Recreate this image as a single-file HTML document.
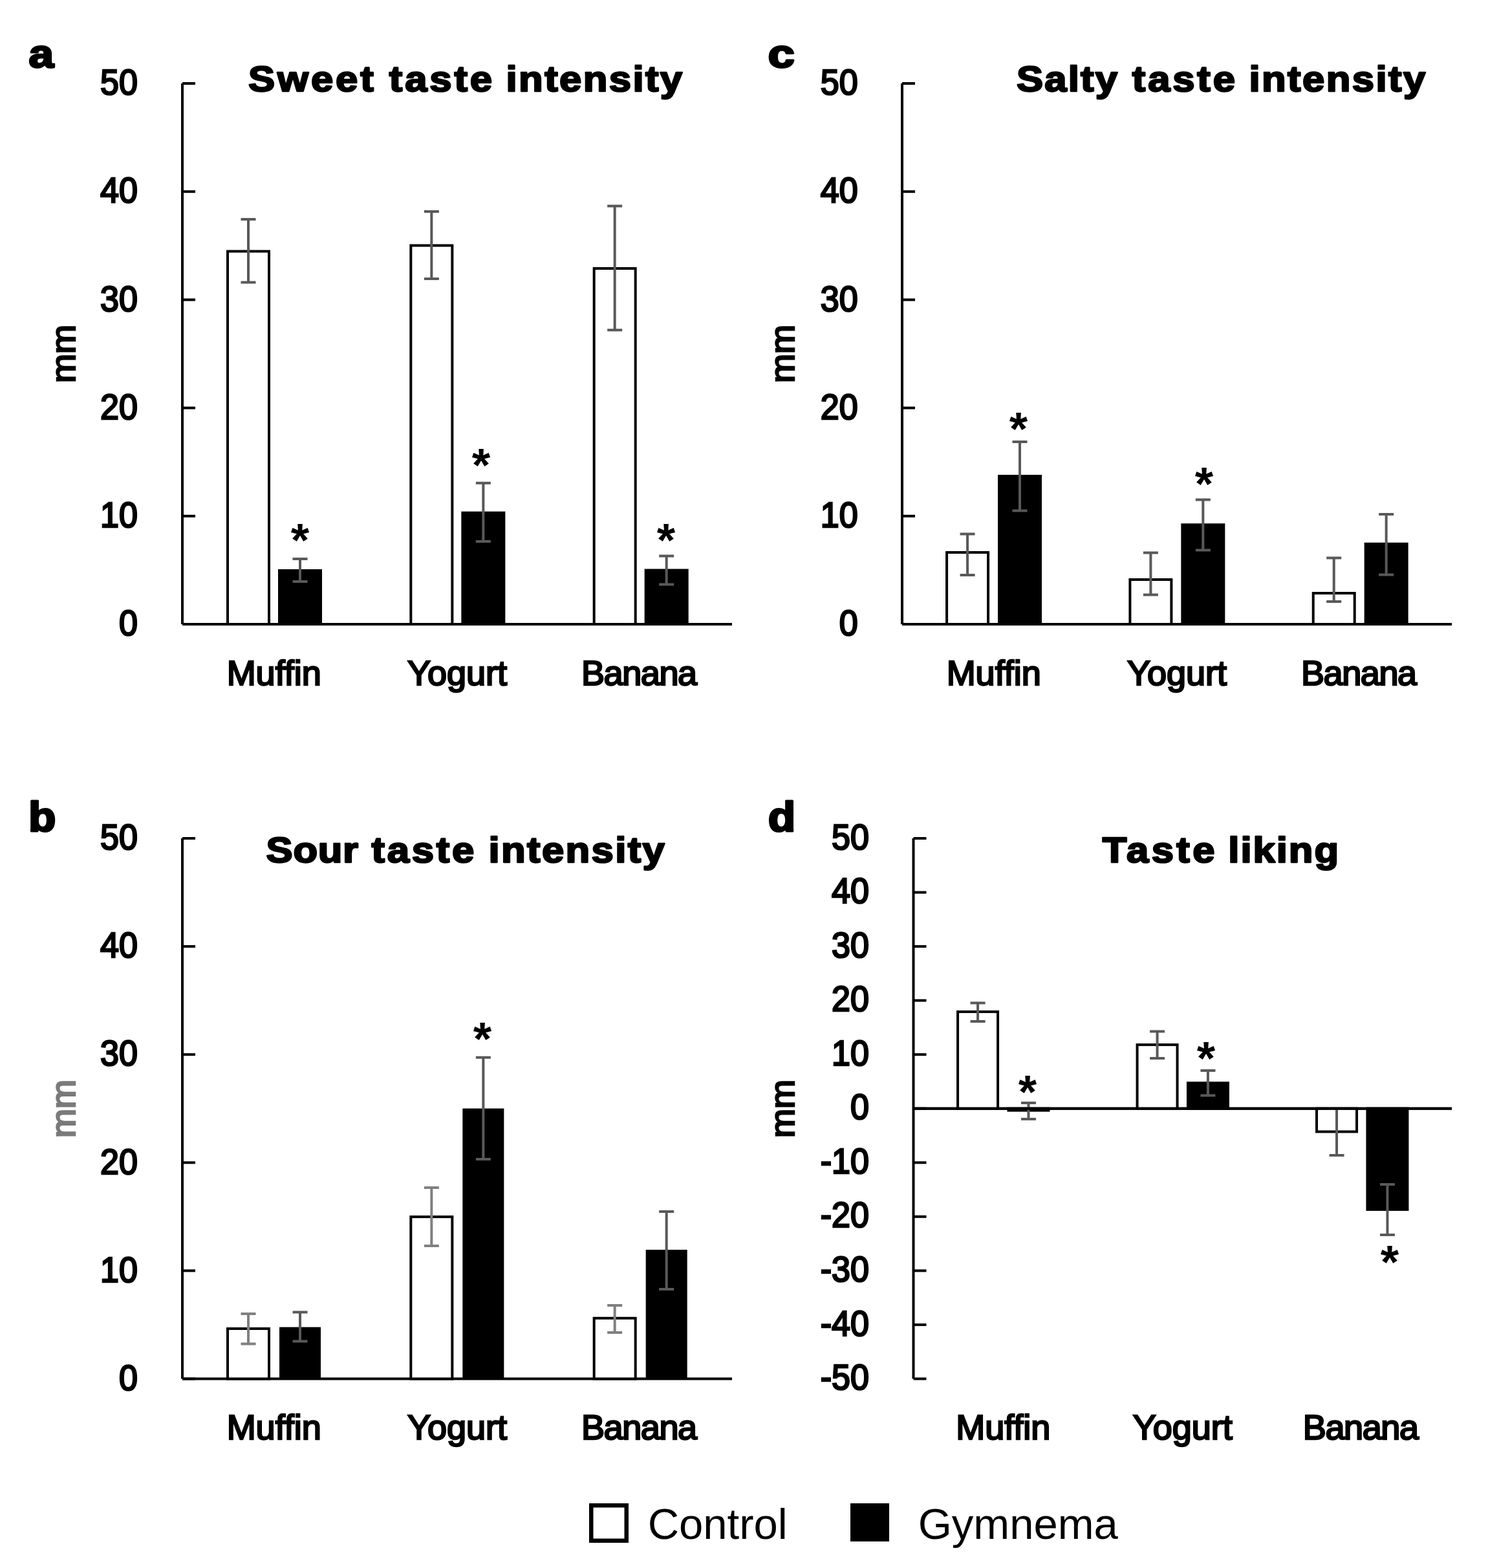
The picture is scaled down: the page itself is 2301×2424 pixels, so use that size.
<!DOCTYPE html>
<html><head><meta charset="utf-8"><title>Taste intensity figure</title>
<style>
html,body{margin:0;padding:0;background:#fff;}
svg{display:block;}
text{font-family:'Liberation Sans', Arial, sans-serif;}
.tk{font-size:52px;fill:#000;stroke:#000;stroke-width:2.5px;}
.lb{font-size:54px;fill:#000;stroke:#000;stroke-width:2.5px;}
.tt{font-size:56px;font-weight:bold;fill:#000;stroke:#000;stroke-width:2.5px;stroke-linejoin:round;}
.pl{font-size:62px;font-weight:bold;fill:#000;stroke:#000;stroke-width:3px;stroke-linejoin:round;}
.st{font-size:73px;font-weight:bold;fill:#000;}
.lg{font-size:67px;fill:#000;}
</style></head>
<body>
<svg width="2301" height="2424" viewBox="0 0 2301 2424">
<rect width="2301" height="2424" fill="#fff"/>
<line x1="282.00" y1="129.00" x2="282.00" y2="965.00" stroke="#000" stroke-width="4"/>
<line x1="282.00" y1="129.00" x2="302.00" y2="129.00" stroke="#000" stroke-width="4"/>
<text transform="translate(212.80 146.20) scale(1 1.05)" text-anchor="end" class="tk">50</text>
<line x1="282.00" y1="296.20" x2="302.00" y2="296.20" stroke="#000" stroke-width="4"/>
<text transform="translate(212.80 313.40) scale(1 1.05)" text-anchor="end" class="tk">40</text>
<line x1="282.00" y1="463.40" x2="302.00" y2="463.40" stroke="#000" stroke-width="4"/>
<text transform="translate(212.80 480.60) scale(1 1.05)" text-anchor="end" class="tk">30</text>
<line x1="282.00" y1="630.60" x2="302.00" y2="630.60" stroke="#000" stroke-width="4"/>
<text transform="translate(212.80 647.80) scale(1 1.05)" text-anchor="end" class="tk">20</text>
<line x1="282.00" y1="797.80" x2="302.00" y2="797.80" stroke="#000" stroke-width="4"/>
<text transform="translate(212.80 815.00) scale(1 1.05)" text-anchor="end" class="tk">10</text>
<line x1="282.00" y1="965.00" x2="302.00" y2="965.00" stroke="#000" stroke-width="4"/>
<text transform="translate(212.80 982.20) scale(1 1.05)" text-anchor="end" class="tk">0</text>
<line x1="282.00" y1="965.00" x2="1132.00" y2="965.00" stroke="#000" stroke-width="4"/>
<text transform="translate(115.75 547.00) rotate(-90)" text-anchor="middle" class="lb" style="fill:#000;stroke:#000">mm</text>
<text x="423.67" y="1058.70" text-anchor="middle" class="lb">Muffin</text>
<text x="707.00" y="1058.70" text-anchor="middle" class="lb">Yogurt</text>
<text x="987.83" y="1058.70" text-anchor="middle" class="lb" letter-spacing="-1.4">Banana</text>
<text transform="translate(0 141.00) scale(1.1 1)" y="0" class="tt"><tspan x="349.09" letter-spacing="3.59">Sweet </tspan><tspan x="547.09" letter-spacing="3.52">taste </tspan><tspan x="711.45" letter-spacing="2.19">intensity</tspan></text>
<text transform="translate(44.50 103.90) scale(1.12 1)" class="pl">a</text>
<rect x="352.00" y="388.50" width="64.00" height="576.50" fill="#fff" stroke="#000" stroke-width="4"/>
<rect x="432.00" y="882.00" width="64.00" height="83.00" fill="#000" stroke="#000" stroke-width="4"/>
<rect x="635.33" y="379.50" width="64.00" height="585.50" fill="#fff" stroke="#000" stroke-width="4"/>
<rect x="715.33" y="792.70" width="64.00" height="172.30" fill="#000" stroke="#000" stroke-width="4"/>
<rect x="918.66" y="415.00" width="64.00" height="550.00" fill="#fff" stroke="#000" stroke-width="4"/>
<rect x="998.66" y="881.50" width="64.00" height="83.50" fill="#000" stroke="#000" stroke-width="4"/>
<path d="M372.50 339.00H395.50M384.00 339.00V436.40M372.50 436.40H395.50" stroke="#595959" stroke-width="4" fill="none"/>
<path d="M452.50 864.00H475.50M464.00 864.00V899.00M452.50 899.00H475.50" stroke="#595959" stroke-width="4" fill="none"/>
<text x="464.00" y="859.92" text-anchor="middle" class="st">*</text>
<path d="M655.83 327.00H678.83M667.33 327.00V431.00M655.83 431.00H678.83" stroke="#595959" stroke-width="4" fill="none"/>
<path d="M735.83 746.80H758.83M747.33 746.80V837.00M735.83 837.00H758.83" stroke="#595959" stroke-width="4" fill="none"/>
<text x="744.00" y="743.82" text-anchor="middle" class="st">*</text>
<path d="M939.16 318.50H962.16M950.66 318.50V510.30M939.16 510.30H962.16" stroke="#595959" stroke-width="4" fill="none"/>
<path d="M1019.16 859.60H1042.16M1030.66 859.60V903.50M1019.16 903.50H1042.16" stroke="#595959" stroke-width="4" fill="none"/>
<text x="1030.00" y="859.72" text-anchor="middle" class="st">*</text>
<line x1="1395.00" y1="129.00" x2="1395.00" y2="965.00" stroke="#000" stroke-width="4"/>
<line x1="1395.00" y1="129.00" x2="1415.00" y2="129.00" stroke="#000" stroke-width="4"/>
<text transform="translate(1326.60 146.20) scale(1 1.05)" text-anchor="end" class="tk">50</text>
<line x1="1395.00" y1="296.20" x2="1415.00" y2="296.20" stroke="#000" stroke-width="4"/>
<text transform="translate(1326.60 313.40) scale(1 1.05)" text-anchor="end" class="tk">40</text>
<line x1="1395.00" y1="463.40" x2="1415.00" y2="463.40" stroke="#000" stroke-width="4"/>
<text transform="translate(1326.60 480.60) scale(1 1.05)" text-anchor="end" class="tk">30</text>
<line x1="1395.00" y1="630.60" x2="1415.00" y2="630.60" stroke="#000" stroke-width="4"/>
<text transform="translate(1326.60 647.80) scale(1 1.05)" text-anchor="end" class="tk">20</text>
<line x1="1395.00" y1="797.80" x2="1415.00" y2="797.80" stroke="#000" stroke-width="4"/>
<text transform="translate(1326.60 815.00) scale(1 1.05)" text-anchor="end" class="tk">10</text>
<line x1="1395.00" y1="965.00" x2="1415.00" y2="965.00" stroke="#000" stroke-width="4"/>
<text transform="translate(1326.60 982.20) scale(1 1.05)" text-anchor="end" class="tk">0</text>
<line x1="1395.00" y1="965.00" x2="2245.00" y2="965.00" stroke="#000" stroke-width="4"/>
<text transform="translate(1227.75 547.00) rotate(-90)" text-anchor="middle" class="lb" style="fill:#000;stroke:#000">mm</text>
<text x="1536.67" y="1058.70" text-anchor="middle" class="lb">Muffin</text>
<text x="1820.00" y="1058.70" text-anchor="middle" class="lb">Yogurt</text>
<text x="2100.83" y="1058.70" text-anchor="middle" class="lb" letter-spacing="-1.4">Banana</text>
<text transform="translate(0 141.00) scale(1.1 1)" y="0" class="tt"><tspan x="1429.18" letter-spacing="1.95">Salty </tspan><tspan x="1591.64" letter-spacing="3.5">taste </tspan><tspan x="1755.82" letter-spacing="2.22">intensity</tspan></text>
<text transform="translate(1187.60 103.80) scale(1.2 1)" class="pl">c</text>
<rect x="1464.07" y="854.00" width="64.00" height="111.00" fill="#fff" stroke="#000" stroke-width="4"/>
<rect x="1545.00" y="736.00" width="64.00" height="229.00" fill="#000" stroke="#000" stroke-width="4"/>
<rect x="1747.40" y="896.00" width="64.00" height="69.00" fill="#fff" stroke="#000" stroke-width="4"/>
<rect x="1828.33" y="811.20" width="64.00" height="153.80" fill="#000" stroke="#000" stroke-width="4"/>
<rect x="2030.73" y="917.00" width="64.00" height="48.00" fill="#fff" stroke="#000" stroke-width="4"/>
<rect x="2111.66" y="840.80" width="64.00" height="124.20" fill="#000" stroke="#000" stroke-width="4"/>
<path d="M1484.57 825.50H1507.57M1496.07 825.50V888.90M1484.57 888.90H1507.57" stroke="#595959" stroke-width="4" fill="none"/>
<path d="M1565.50 683.00H1588.50M1577.00 683.00V789.40M1565.50 789.40H1588.50" stroke="#595959" stroke-width="4" fill="none"/>
<text x="1575.00" y="687.72" text-anchor="middle" class="st">*</text>
<path d="M1767.90 854.50H1790.90M1779.40 854.50V919.50M1767.90 919.50H1790.90" stroke="#595959" stroke-width="4" fill="none"/>
<path d="M1848.83 772.50H1871.83M1860.33 772.50V850.40M1848.83 850.40H1871.83" stroke="#595959" stroke-width="4" fill="none"/>
<text x="1862.00" y="772.72" text-anchor="middle" class="st">*</text>
<path d="M2051.23 862.50H2074.23M2062.73 862.50V930.00M2051.23 930.00H2074.23" stroke="#595959" stroke-width="4" fill="none"/>
<path d="M2132.16 795.00H2155.16M2143.66 795.00V888.50M2132.16 888.50H2155.16" stroke="#595959" stroke-width="4" fill="none"/>
<line x1="282.00" y1="1296.00" x2="282.00" y2="2131.50" stroke="#000" stroke-width="4"/>
<line x1="282.00" y1="1296.00" x2="302.00" y2="1296.00" stroke="#000" stroke-width="4"/>
<text transform="translate(212.80 1313.20) scale(1 1.05)" text-anchor="end" class="tk">50</text>
<line x1="282.00" y1="1463.10" x2="302.00" y2="1463.10" stroke="#000" stroke-width="4"/>
<text transform="translate(212.80 1480.30) scale(1 1.05)" text-anchor="end" class="tk">40</text>
<line x1="282.00" y1="1630.20" x2="302.00" y2="1630.20" stroke="#000" stroke-width="4"/>
<text transform="translate(212.80 1647.40) scale(1 1.05)" text-anchor="end" class="tk">30</text>
<line x1="282.00" y1="1797.30" x2="302.00" y2="1797.30" stroke="#000" stroke-width="4"/>
<text transform="translate(212.80 1814.50) scale(1 1.05)" text-anchor="end" class="tk">20</text>
<line x1="282.00" y1="1964.40" x2="302.00" y2="1964.40" stroke="#000" stroke-width="4"/>
<text transform="translate(212.80 1981.60) scale(1 1.05)" text-anchor="end" class="tk">10</text>
<line x1="282.00" y1="2131.50" x2="302.00" y2="2131.50" stroke="#000" stroke-width="4"/>
<text transform="translate(212.80 2148.70) scale(1 1.05)" text-anchor="end" class="tk">0</text>
<line x1="282.00" y1="2131.50" x2="1132.00" y2="2131.50" stroke="#000" stroke-width="4"/>
<text transform="translate(115.75 1714.00) rotate(-90)" text-anchor="middle" class="lb" style="fill:#7a7a7a;stroke:#7a7a7a">mm</text>
<text x="423.67" y="2224.80" text-anchor="middle" class="lb">Muffin</text>
<text x="707.00" y="2224.80" text-anchor="middle" class="lb">Yogurt</text>
<text x="987.83" y="2224.80" text-anchor="middle" class="lb" letter-spacing="-1.4">Banana</text>
<text transform="translate(0 1332.50) scale(1.1 1)" y="0" class="tt"><tspan x="374.18" letter-spacing="0.64">Sour </tspan><tspan x="522.36" letter-spacing="3.39">taste </tspan><tspan x="686.82" letter-spacing="2.17">intensity</tspan></text>
<text transform="translate(44.10 1284.90) scale(1.12 1.04)" class="pl">b</text>
<rect x="352.00" y="2054.00" width="64.00" height="77.50" fill="#fff" stroke="#000" stroke-width="4"/>
<rect x="432.00" y="2051.60" width="64.00" height="79.90" fill="#000"/>
<rect x="635.33" y="1881.10" width="64.00" height="250.40" fill="#fff" stroke="#000" stroke-width="4"/>
<rect x="715.33" y="1713.60" width="64.00" height="417.90" fill="#000"/>
<rect x="918.66" y="2037.80" width="64.00" height="93.70" fill="#fff" stroke="#000" stroke-width="4"/>
<rect x="998.66" y="1932.00" width="64.00" height="199.50" fill="#000"/>
<path d="M372.50 2031.00H395.50M384.00 2031.00V2077.40M372.50 2077.40H395.50" stroke="#808080" stroke-width="4" fill="none"/>
<path d="M452.50 2028.50H475.50M464.00 2028.50V2073.40M452.50 2073.40H475.50" stroke="#595959" stroke-width="4" fill="none"/>
<path d="M655.83 1835.90H678.83M667.33 1835.90V1925.90M655.83 1925.90H678.83" stroke="#808080" stroke-width="4" fill="none"/>
<path d="M735.83 1634.80H758.83M747.33 1634.80V1792.00M735.83 1792.00H758.83" stroke="#595959" stroke-width="4" fill="none"/>
<text x="746.00" y="1630.72" text-anchor="middle" class="st">*</text>
<path d="M939.16 2017.90H962.16M950.66 2017.90V2059.90M939.16 2059.90H962.16" stroke="#808080" stroke-width="4" fill="none"/>
<path d="M1019.16 1873.00H1042.16M1030.66 1873.00V1993.00M1019.16 1993.00H1042.16" stroke="#595959" stroke-width="4" fill="none"/>
<line x1="1412.50" y1="1296.00" x2="1412.50" y2="2131.50" stroke="#000" stroke-width="4"/>
<line x1="1412.50" y1="1296.00" x2="1432.50" y2="1296.00" stroke="#000" stroke-width="4"/>
<text transform="translate(1343.90 1312.60) scale(1 1.05)" text-anchor="end" class="tk">50</text>
<line x1="1412.50" y1="1379.55" x2="1432.50" y2="1379.55" stroke="#000" stroke-width="4"/>
<text transform="translate(1343.90 1396.15) scale(1 1.05)" text-anchor="end" class="tk">40</text>
<line x1="1412.50" y1="1463.10" x2="1432.50" y2="1463.10" stroke="#000" stroke-width="4"/>
<text transform="translate(1343.90 1479.70) scale(1 1.05)" text-anchor="end" class="tk">30</text>
<line x1="1412.50" y1="1546.65" x2="1432.50" y2="1546.65" stroke="#000" stroke-width="4"/>
<text transform="translate(1343.90 1563.25) scale(1 1.05)" text-anchor="end" class="tk">20</text>
<line x1="1412.50" y1="1630.20" x2="1432.50" y2="1630.20" stroke="#000" stroke-width="4"/>
<text transform="translate(1343.90 1646.80) scale(1 1.05)" text-anchor="end" class="tk">10</text>
<line x1="1412.50" y1="1713.75" x2="1432.50" y2="1713.75" stroke="#000" stroke-width="4"/>
<text transform="translate(1343.90 1730.35) scale(1 1.05)" text-anchor="end" class="tk">0</text>
<line x1="1412.50" y1="1797.30" x2="1432.50" y2="1797.30" stroke="#000" stroke-width="4"/>
<text transform="translate(1343.90 1813.90) scale(1 1.05)" text-anchor="end" class="tk">-10</text>
<line x1="1412.50" y1="1880.85" x2="1432.50" y2="1880.85" stroke="#000" stroke-width="4"/>
<text transform="translate(1343.90 1897.45) scale(1 1.05)" text-anchor="end" class="tk">-20</text>
<line x1="1412.50" y1="1964.40" x2="1432.50" y2="1964.40" stroke="#000" stroke-width="4"/>
<text transform="translate(1343.90 1981.00) scale(1 1.05)" text-anchor="end" class="tk">-30</text>
<line x1="1412.50" y1="2047.95" x2="1432.50" y2="2047.95" stroke="#000" stroke-width="4"/>
<text transform="translate(1343.90 2064.55) scale(1 1.05)" text-anchor="end" class="tk">-40</text>
<line x1="1412.50" y1="2131.50" x2="1432.50" y2="2131.50" stroke="#000" stroke-width="4"/>
<text transform="translate(1343.90 2148.10) scale(1 1.05)" text-anchor="end" class="tk">-50</text>
<line x1="1412.50" y1="1713.75" x2="2245.00" y2="1713.75" stroke="#000" stroke-width="4"/>
<text transform="translate(1227.75 1714.00) rotate(-90)" text-anchor="middle" class="lb" style="fill:#000;stroke:#000">mm</text>
<text x="1551.25" y="2224.80" text-anchor="middle" class="lb">Muffin</text>
<text x="1828.75" y="2224.80" text-anchor="middle" class="lb">Yogurt</text>
<text x="2103.75" y="2224.80" text-anchor="middle" class="lb" letter-spacing="-1.4">Banana</text>
<text transform="translate(0 1332.60) scale(1.1 1)" y="0" class="tt"><tspan x="1549.73" letter-spacing="3.95">Taste </tspan><tspan x="1726.64" letter-spacing="1.8">liking</tspan></text>
<text transform="translate(1187.80 1284.60) scale(1.12 1.04)" class="pl">d</text>
<rect x="1481.05" y="1564.10" width="62.00" height="149.65" fill="#fff" stroke="#000" stroke-width="4"/>
<rect x="1559.45" y="1713.75" width="62.00" height="2.85" fill="#000" stroke="#000" stroke-width="4"/>
<rect x="1758.55" y="1615.10" width="62.00" height="98.65" fill="#fff" stroke="#000" stroke-width="4"/>
<rect x="1836.95" y="1674.20" width="62.00" height="39.55" fill="#000" stroke="#000" stroke-width="4"/>
<rect x="2036.05" y="1713.75" width="62.00" height="35.75" fill="#fff" stroke="#000" stroke-width="4"/>
<rect x="2114.45" y="1713.75" width="62.00" height="156.15" fill="#000" stroke="#000" stroke-width="4"/>
<path d="M1500.55 1550.40H1523.55M1512.05 1550.40V1579.00M1500.55 1579.00H1523.55" stroke="#595959" stroke-width="4" fill="none"/>
<path d="M1578.95 1705.00H1601.95M1590.45 1705.00V1730.00M1578.95 1730.00H1601.95" stroke="#595959" stroke-width="4" fill="none"/>
<path d="M1778.05 1594.50H1801.05M1789.55 1594.50V1636.00M1778.05 1636.00H1801.05" stroke="#595959" stroke-width="4" fill="none"/>
<path d="M1856.45 1655.00H1879.45M1867.95 1655.00V1693.40M1856.45 1693.40H1879.45" stroke="#595959" stroke-width="4" fill="none"/>
<path d="M2055.55 1714.00H2078.55M2067.05 1714.00V1786.00M2055.55 1786.00H2078.55" stroke="#595959" stroke-width="4" fill="none"/>
<path d="M2133.95 1831.00H2156.95M2145.45 1831.00V1909.00M2133.95 1909.00H2156.95" stroke="#595959" stroke-width="4" fill="none"/>
<line x1="1412.50" y1="1713.75" x2="2245.00" y2="1713.75" stroke="#000" stroke-width="4"/>
<text x="1589.00" y="1712.72" text-anchor="middle" class="st">*</text>
<text x="1865.00" y="1660.72" text-anchor="middle" class="st">*</text>
<text x="2149.00" y="1975.82" text-anchor="middle" class="st">*</text>
<rect x="914.25" y="2327.25" width="54.5" height="54.5" fill="#fff" stroke="#000" stroke-width="6.5"/>
<rect x="1315" y="2324" width="60" height="59" fill="#000"/>
<text x="1001.70" y="2378.5" class="lg">Control</text>
<text x="1419.73" y="2379" class="lg">Gymnema</text>
</svg>
</body></html>
